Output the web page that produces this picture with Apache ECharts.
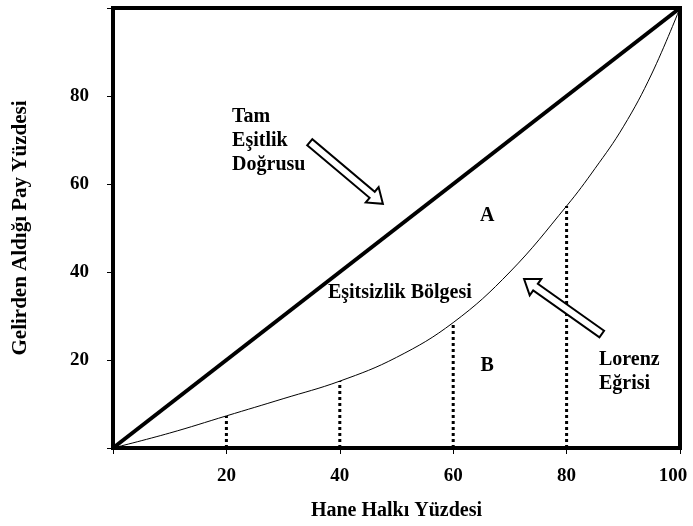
<!DOCTYPE html>
<html>
<head>
<meta charset="utf-8">
<script src="https://cdn.jsdelivr.net/npm/echarts@6/dist/echarts.min.js"></script>
<style>
html,body{margin:0;padding:0;background:#fff;}
#main{width:693px;height:526px;}
</style>
</head>
<body>
<div id="main"></div>
<script>
// Lorenz egrisi verisi
var hanePct = [0, 10, 20, 30, 40, 50, 60, 70, 80, 85, 90, 95, 100];
var gelirPct = [0, 3.4, 7.3, 11.2, 15.2, 20.6, 28.5, 40, 55, 63.5, 73, 85, 100];
// noktali dikey cizgiler
var dropX = [20, 40, 60, 80];
var dropY = [7.3, 15.2, 28.5, 55];
// yazilar (veri koordinatlari)
var notes = [
    {text: 'Tam\nEşitlik\nDoğrusu', x: 21, y: 69.8, align: 'left'},
    {text: 'A', x: 66, y: 52.7, align: 'center'},
    {text: 'Eşitsizlik Bölgesi', x: 37.9, y: 35.2, align: 'left'},
    {text: 'B', x: 66, y: 18.6, align: 'center'},
    {text: 'Lorenz\nEğrisi', x: 85.7, y: 17.3, align: 'left'}
];
// oklar: kuyruk -> uc
var arrows = [
    {from: [34.7, 69.5], to: [47.6, 55.5]},
    {from: [86.2, 25.9], to: [72.5, 38.4]}
];

var font = '"Liberation Serif", "Times New Roman", serif';
var chart = echarts.init(document.getElementById('main'));

var lorenz = hanePct.map(function (v, i) { return [v, gelirPct[i]]; });
var series = [
    {
        type: 'line',
        data: [[0, 0], [100, 100]],
        symbol: 'none',
        lineStyle: {color: '#000', width: 4},
        z: 5
    },
    {
        type: 'line',
        data: lorenz,
        smooth: 0.4,
        symbol: 'none',
        lineStyle: {color: '#000', width: 1},
        z: 4
    }
];
for (var i = 0; i < dropX.length; i++) {
    series.push({
        type: 'line',
        data: [[dropX[i], 0], [dropX[i], dropY[i]]],
        symbol: 'none',
        lineStyle: {color: '#000', width: 3, type: [3, 3]},
        z: 3
    });
}

var option = {
    animation: false,
    grid: {
        left: 113, right: 13, top: 8, bottom: 78,
        outerBoundsMode: 'none',
        containLabel: false,
        show: true, borderColor: '#000', borderWidth: 4
    },
    xAxis: {
        type: 'value', min: 0, max: 100, interval: 20,
        name: 'Hane Halkı Yüzdesi',
        nameLocation: 'middle', nameGap: 53,
        nameTextStyle: {color: '#000', fontFamily: font, fontWeight: 'bold', fontSize: 20},
        axisLine: {show: true, lineStyle: {color: '#000', width: 4}},
        axisTick: {show: true, length: 6, lineStyle: {color: '#000', width: 1}},
        axisLabel: {
            color: '#000', fontFamily: font, fontWeight: 'bold', fontSize: 19, margin: 19,
            formatter: function (v) {
                if (v === 0) return '';
                return v === 100 ? '{m|' + v + '}' : String(v);
            },
            rich: {
                m: {color: '#000', fontFamily: font, fontWeight: 'bold', fontSize: 19, padding: [0, 14, 0, 0]}
            }
        },
        splitLine: {show: false}
    },
    yAxis: {
        type: 'value', min: 0, max: 100, interval: 20,
        name: 'Gelirden Aldığı Pay Yüzdesi',
        nameLocation: 'middle', nameGap: 82,
        nameTextStyle: {color: '#000', fontFamily: font, fontWeight: 'bold', fontSize: 21},
        axisLine: {show: true, lineStyle: {color: '#000', width: 4}},
        axisTick: {show: true, length: 6, lineStyle: {color: '#000', width: 1}},
        axisLabel: {
            color: '#000', fontFamily: font, fontWeight: 'bold', fontSize: 19, margin: 24,
            formatter: function (v) { return (v === 0 || v === 100) ? '' : v; }
        },
        splitLine: {show: false}
    },
    series: series
};
chart.setOption(option);

// icleri bos blok oklar
function arrowShape(a) {
    var t = chart.convertToPixel({gridIndex: 0}, a.from);
    var h = chart.convertToPixel({gridIndex: 0}, a.to);
    var dx = h[0] - t[0], dy = h[1] - t[1];
    var len = Math.sqrt(dx * dx + dy * dy);
    var ux = dx / len, uy = dy / len;
    var nx = -uy, ny = ux;
    var w = 4, hw = 10, hl = 14;
    var bx = h[0] - ux * hl, by = h[1] - uy * hl;
    return [
        [t[0] + nx * w, t[1] + ny * w],
        [bx + nx * w, by + ny * w],
        [bx + nx * hw, by + ny * hw],
        [h[0], h[1]],
        [bx - nx * hw, by - ny * hw],
        [bx - nx * w, by - ny * w],
        [t[0] - nx * w, t[1] - ny * w]
    ];
}
var graphics = arrows.map(function (a) {
    return {
        type: 'polygon',
        shape: {points: arrowShape(a)},
        style: {fill: '#fff', stroke: '#000', lineWidth: 2},
        z: 100
    };
});
notes.forEach(function (n) {
    var p = chart.convertToPixel({gridIndex: 0}, [n.x, n.y]);
    graphics.push({
        type: 'text',
        x: p[0], y: p[1],
        style: {
            text: n.text,
            fill: '#000',
            font: 'bold 20px ' + font,
            lineHeight: 24,
            align: n.align,
            verticalAlign: 'middle'
        },
        z: 100
    });
});
chart.setOption({graphic: graphics});
</script>
</body>
</html>
